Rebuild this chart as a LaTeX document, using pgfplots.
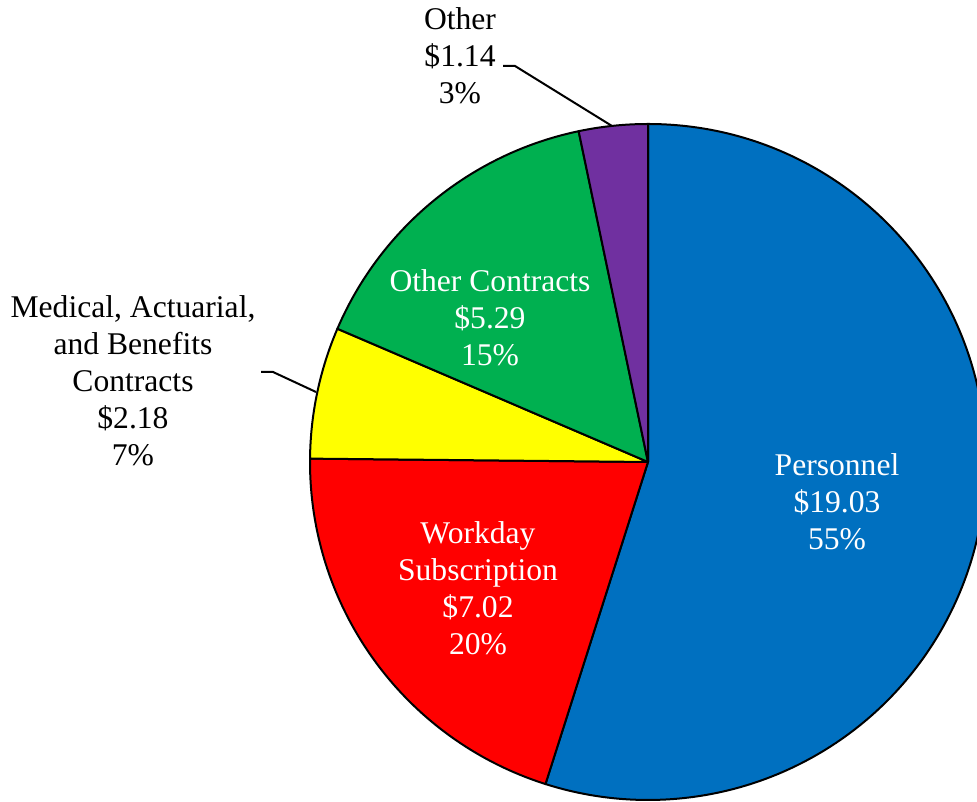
\documentclass[border=0pt]{standalone}
\usepackage{fontspec}
\setmainfont{Liberation Serif}
\usepackage{pgfplots}
\usepackage{pgfplotstable}
\pgfplotsset{compat=1.18}

\definecolor{cBlue}{HTML}{0070C0}
\definecolor{cRed}{HTML}{FF0000}
\definecolor{cYellow}{HTML}{FFFF00}
\definecolor{cGreen}{HTML}{00B050}
\definecolor{cPurple}{HTML}{7030A0}

% spending by category, clockwise from 12 o'clock
\pgfplotstableread{
label value
Personnel 19.03
Workday 7.02
Medical 2.18
OtherContracts 5.29
Other 1.14
}\piedata

\begin{document}
\begin{tikzpicture}
\pgfplotstablegetelem{0}{value}\of\piedata \let\vA\pgfplotsretval
\pgfplotstablegetelem{1}{value}\of\piedata \let\vB\pgfplotsretval
\pgfplotstablegetelem{2}{value}\of\piedata \let\vC\pgfplotsretval
\pgfplotstablegetelem{3}{value}\of\piedata \let\vD\pgfplotsretval
\pgfplotstablegetelem{4}{value}\of\piedata \let\vE\pgfplotsretval
\pgfmathsetmacro\tot{\vA+\vB+\vC+\vD+\vE}
\pgfmathsetmacro\aA{90}
\pgfmathsetmacro\aB{\aA-360*\vA/\tot}
\pgfmathsetmacro\aC{\aB-360*\vB/\tot}
\pgfmathsetmacro\aD{\aC-360*\vC/\tot}
\pgfmathsetmacro\aE{\aD-360*\vD/\tot}
\pgfmathsetmacro\aF{\aE-360*\vE/\tot}
\def\R{84.5pt}
\begin{axis}[
  hide axis, x=0.25pt, y=0.25pt,
  xmin=0, xmax=977, ymin=0, ymax=802,
  clip=true,
]
\path (axis cs:0,0) rectangle (axis cs:977,802);
\tikzset{slice/.style={draw=black, line width=0.5pt, line join=round}}
\fill[cBlue, slice] (axis cs:648,340) -- ++(\aA:\R) arc[start angle=\aA, end angle=\aB, radius=\R] -- cycle;
\fill[cRed, slice] (axis cs:648,340) -- ++(\aB:\R) arc[start angle=\aB, end angle=\aC, radius=\R] -- cycle;
\fill[cYellow, slice] (axis cs:648,340) -- ++(\aC:\R) arc[start angle=\aC, end angle=\aD, radius=\R] -- cycle;
\fill[cGreen, slice] (axis cs:648,340) -- ++(\aD:\R) arc[start angle=\aD, end angle=\aE, radius=\R] -- cycle;
\fill[cPurple, slice] (axis cs:648,340) -- ++(\aE:\R) arc[start angle=\aE, end angle=\aF, radius=\R] -- cycle;

% leader lines
\draw[black, line width=0.5pt] (axis cs:503,736) -- (axis cs:515,736) -- (axis cs:612,676);
\draw[black, line width=0.5pt] (axis cs:261,430) -- (axis cs:273,430) -- (axis cs:316,410);

\tikzset{lbl/.style={align=center, font=\fontsize{7.9}{9.25}\selectfont, inner sep=0pt}}
\node[lbl, text=white] at (axis cs:837,300) {Personnel\\\$19.03\\55\%};
\node[lbl, text=white] at (axis cs:478,214) {Workday\\Subscription\\\$7.02\\20\%};
\node[lbl, text=white] at (axis cs:490,484) {Other Contracts\\\$5.29\\15\%};
\node[lbl] at (axis cs:133,421) {Medical, Actuarial,\\and Benefits\\Contracts\\\$2.18\\7\%};
\node[lbl] at (axis cs:460,746) {Other\\\$1.14\\3\%};
\end{axis}
\end{tikzpicture}
\end{document}
